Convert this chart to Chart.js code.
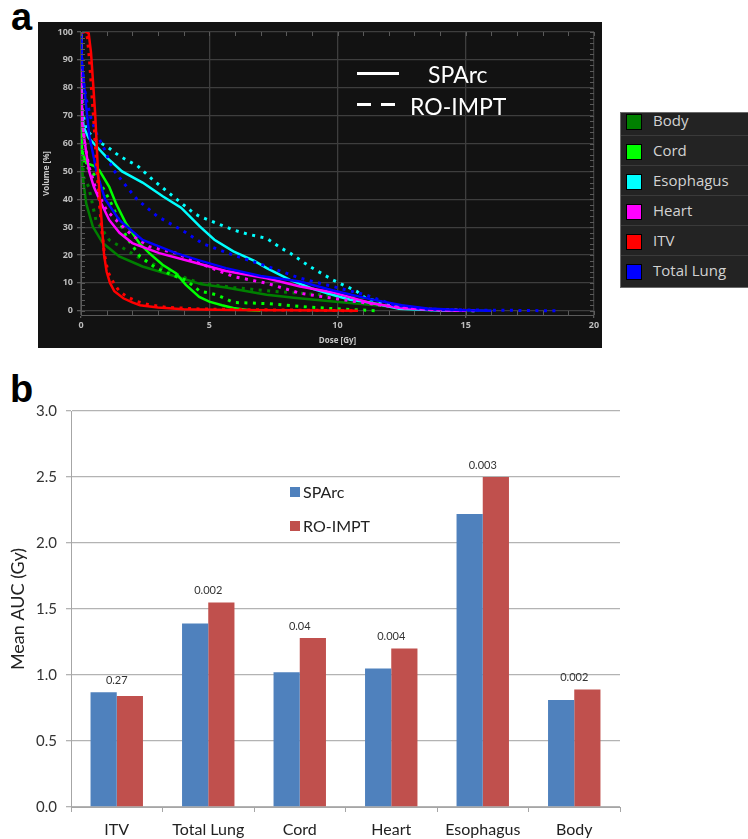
<!DOCTYPE html>
<html>
<head>
<meta charset="utf-8">
<script src="https://cdn.jsdelivr.net/npm/chart.js@4.4.1/dist/chart.umd.min.js"></script>
<style>
  body { margin: 0; width: 748px; height: 839px; background: #fff; position: relative; overflow: hidden; font-family: Lato, sans-serif; }
  .panel { position: absolute; font: bold 38px "Liberation Sans", Arial, sans-serif; line-height: 1; color: #000; }
  #boxA { position: absolute; left: 38px; top: 22px; width: 564px; height: 326px; background: #121212; }
  #planKey { position: absolute; left: 0; top: 0; color: #fff; font: 23px Lato, sans-serif; }
  #planKey div { position: absolute; white-space: nowrap; }
  #structKey { position: absolute; left: 620px; top: 112px; width: 140px; height: 174px; overflow: hidden; background: #232323; border: 1px solid #6a6a6a; }
  #structKey .inner { margin-top: -7px; }
  #structKey .row { height: 29px; border-bottom: 1px solid #3a3a3a; position: relative; font: 15px "Open Sans", sans-serif; color: #d2d2d2; }
  #structKey .row:last-child { border-bottom: none; }
  #structKey .sw { position: absolute; left: 5px; top: 8px; width: 14px; height: 14px; border: 1px solid #000; }
  #structKey .tx { position: absolute; left: 32px; top: 4px; }
  #keyB { position: absolute; left: 0; top: 0; font: 16px Lato, sans-serif; color: #222; }
  #keyB div { position: absolute; white-space: nowrap; }
  canvas { position: absolute; }
</style>
</head>
<body>
<div class="panel" style="left:11px; top:-2px;">a</div>
<div class="panel" style="left:10px; top:370px;">b</div>

<div id="boxA"><canvas id="dvh" width="564" height="326" style="left:0;top:0"></canvas></div>
<div id="planKey"></div>
<div id="structKey"></div>

<canvas id="auc" width="748" height="459" style="left:0;top:380px"></canvas>
<div id="keyB"></div>

<script>
// ---- panel a : DVH curves, [dose Gy, volume %] ----
var structures = ['Body', 'Cord', 'Esophagus', 'Heart', 'ITV', 'Total Lung'];
var structureColors = ['#008000', '#00ff00', '#00ffff', '#ff00ff', '#ff0000', '#0000ff'];
var planNames = ['SPArc', 'RO-IMPT'];
var yTicksA = [0, 10, 20, 30, 40, 50, 60, 70, 80, 90, 100];

var bodySparc = [[0,100],[0.01,65],[0.03,55],[0.07,48],[0.2,38.6],[0.46,30.2],[0.85,24.3],[1.49,19.5],[2.4,15.9],[3.7,12.3],[4.7,9.5],[5.65,8.4],[6.74,6.6],[7.24,5.8],[8.3,4.7],[9.83,3.3],[11.27,2.2],[12.5,1.2],[13.5,0.5],[15,0.1],[16,0]];
var bodyRoimpt = [[0,100],[0.01,66],[0.05,55],[0.1,48],[0.3,44.5],[0.58,32.6],[1.1,25.4],[1.75,21.9],[2.4,18.3],[3.05,15.9],[4.1,11.7],[4.64,9.9],[5.94,8.4],[7.24,7.2],[8.54,6.3],[9.83,5.5],[11.1,4.5],[12,2.5],[13,1],[14,0.3],[15.5,0]];
var cordSparc = [[0,100],[0.01,62],[0.05,57],[0.2,53],[0.5,52],[0.71,50.5],[1.1,44.5],[1.36,38.6],[1.75,31.4],[2.27,24.3],[2.66,20.7],[3.18,16.5],[3.7,13.5],[4.09,9.3],[4.61,5],[5.0,3.3],[5.5,2],[5.94,1],[6.5,0.3],[7,0]];
var cordRoimpt = [[0,100],[0.01,62],[0.05,56],[0.2,52],[0.5,49],[0.8,45],[1.1,40],[1.4,34],[1.8,26],[2.3,19.5],[2.9,15.5],[3.5,13],[4.1,11],[4.64,7],[5.0,6.4],[5.3,5.7],[5.94,3],[7.24,2.6],[8.5,1.6],[9.8,0.8],[10.7,0.4],[11.5,0]];
var esoSparc = [[0,100],[0.01,85],[0.04,72],[0.1,66],[0.3,62],[0.5,60],[1.0,55],[1.6,50],[2.4,46],[3.2,41],[3.9,37],[4.64,30.2],[5.2,25.5],[5.94,21.3],[6.74,18],[7.24,15.3],[8.15,11.1],[9.0,8],[9.83,5.7],[10.5,4],[11.27,3],[12.4,0.7],[14,0.1],[15,0]];
var esoRoimpt = [[0,100],[0.01,85],[0.05,72],[0.2,65],[0.6,61],[1.0,59],[1.5,55.5],[2.2,52],[2.8,47],[3.6,41],[4.4,35],[4.64,33.8],[5.94,29],[6.5,27.5],[7.24,26],[7.8,22.5],[8.15,20.7],[8.9,16],[9.83,11],[10.75,7],[11.1,4.5],[12.4,1.5],[13.7,0.4],[15.5,0]];
var heartSparc = [[0,100],[0.01,80],[0.05,67],[0.2,57],[0.32,50],[0.5,44.5],[0.71,40],[1.1,32.6],[1.5,28],[2.0,24.3],[3.05,20.7],[4.35,17.5],[5.65,14.3],[7.24,11.7],[8.54,8.7],[9.83,6.6],[11.27,2.8],[12.5,1],[14,0.2],[15,0]];
var heartRoimpt = [[0,100],[0.01,80],[0.05,68],[0.15,60],[0.3,52],[0.58,43.7],[1.0,36],[1.49,31.4],[2.0,27],[2.66,23],[3.7,20.7],[4.64,17],[5.94,12.3],[7.24,9.9],[8.54,6.3],[9.83,4.5],[11.1,2.8],[12.5,1],[14,0.4],[15.5,0]];
var itvSparc = [[0,100],[0.2,100],[0.3,99.5],[0.39,92.6],[0.48,80.6],[0.55,71],[0.61,60],[0.66,50],[0.74,40],[0.82,30],[0.9,20],[1.0,14],[1.13,10],[1.3,7],[1.65,4.5],[2.0,3],[2.3,2],[3.0,1.2],[4.0,0.6],[6.0,0.3],[8.0,0.2],[10.8,0]];
var itvRoimpt = [[0,100],[0.15,100],[0.25,98],[0.33,90],[0.42,78],[0.5,68],[0.57,58],[0.64,48],[0.72,38],[0.82,28],[0.92,20],[1.05,14],[1.3,9.5],[1.5,7],[1.8,5],[2.2,3.3],[2.6,2.3],[3.3,1.3],[4.5,0.7],[6.5,0.4],[9,0.2],[10.8,0]];
var lungSparc = [[0,100],[0.01,95],[0.04,89],[0.2,73.5],[0.32,63],[0.52,54],[0.6,50],[0.94,40],[1.5,32.5],[2.4,25.4],[3.7,20.7],[4.64,18],[5.65,15.3],[7.0,12.5],[8.54,10.5],[9.83,7.3],[11.27,4.2],[12.5,2],[13.5,0.8],[15,0.2],[16,0]];
var lungRoimpt = [[0,100],[0.03,92],[0.1,82],[0.2,76],[0.39,69],[0.58,64],[0.91,58],[1.23,51],[1.65,46],[2.18,40],[2.96,34],[4.1,28],[4.77,24],[5.94,20],[7.24,16],[8.54,11.7],[9.83,8.7],[11.1,5.7],[12.2,2.1],[13.5,0.6],[15,0.3],[17,0.15],[18.5,0]];

var sparcCurves = [bodySparc, cordSparc, esoSparc, heartSparc, itvSparc, lungSparc];
var roimptCurves = [bodyRoimpt, cordRoimpt, esoRoimpt, heartRoimpt, itvRoimpt, lungRoimpt];

// ---- panel b : mean AUC ----
var categories = ['ITV', 'Total Lung', 'Cord', 'Heart', 'Esophagus', 'Body'];
var sparcAuc = [0.87, 1.39, 1.02, 1.05, 2.22, 0.81];
var roimptAuc = [0.84, 1.55, 1.28, 1.20, 2.50, 0.89];
var pValues = ['0.27', '0.002', '0.04', '0.004', '0.003', '0.002'];
var yTicksB = [0, 0.5, 1, 1.5, 2, 2.5, 3];

var tickFontA = { family: 'Open Sans', size: 9, weight: 'bold' };

// datasets, ITV first so it sits on top
var dvhSets = [];
[4, 5, 3, 2, 1, 0].forEach(function (i) {
  dvhSets.push({
    label: structures[i] + ' ' + planNames[0],
    data: sparcCurves[i].map(function (p) { return { x: p[0], y: p[1] }; }),
    borderColor: structureColors[i], borderWidth: 2.5
  });
  dvhSets.push({
    label: structures[i] + ' ' + planNames[1],
    data: roimptCurves[i].map(function (p) { return { x: p[0], y: p[1] }; }),
    borderColor: structureColors[i], borderWidth: 3, borderDash: [3, 5.5]
  });
});

var minorTicks = {
  id: 'minorTicks',
  afterDraw: function (chart) {
    var ctx = chart.ctx, a = chart.chartArea, x = chart.scales.x, y = chart.scales.y;
    var y0 = y.getPixelForValue(0);
    ctx.save();
    ctx.strokeStyle = '#5a5a5a';
    ctx.lineWidth = 1;
    ctx.beginPath();
    for (var d = 0; d <= 20; d++) {
      var px = Math.round(x.getPixelForValue(d)) + 0.5;
      ctx.moveTo(px, a.top); ctx.lineTo(px, a.top + 4);
      ctx.moveTo(px, y0); ctx.lineTo(px, a.bottom);
    }
    for (var v = 0; v <= 100; v += 2) {
      var py = Math.round(y.getPixelForValue(v)) + 0.5;
      ctx.moveTo(a.left, py); ctx.lineTo(a.left + 4, py);
      ctx.moveTo(a.right - 4, py); ctx.lineTo(a.right, py);
    }
    ctx.stroke();
    ctx.restore();
  }
};

new Chart(document.getElementById('dvh'), {
  type: 'line',
  data: { datasets: dvhSets },
  options: {
    responsive: false,
    animation: false,
    layout: { padding: { top: 10, right: 8, left: 0, bottom: 0 } },
    plugins: { legend: { display: false }, tooltip: { enabled: false } },
    elements: { point: { radius: 0 }, line: { tension: 0, borderCapStyle: 'butt' } },
    scales: {
      x: {
        type: 'linear', min: 0, max: 20,
        ticks: { stepSize: 5, color: '#bdbdbd', font: tickFontA, padding: 2, maxRotation: 0 },
        grid: { color: '#3e3e3e', lineWidth: 1.3, tickLength: 3, tickColor: '#5a5a5a' },
        border: { color: '#5a5a5a' },
        title: { display: true, text: 'Dose [Gy]', color: '#c8c8c8', font: { family: 'Open Sans', size: 8, weight: 'bold' }, padding: { top: 0, bottom: 2 } },
        afterFit: function (s) { s.height = 33; }
      },
      y: {
        min: -1.5, max: 100,
        afterBuildTicks: function (s) { s.ticks = yTicksA.map(function (v) { return { value: v }; }); },
        ticks: { color: '#bdbdbd', font: tickFontA, padding: 4 },
        grid: { color: '#3e3e3e', lineWidth: 1.3, tickLength: 4, tickColor: '#5a5a5a' },
        border: { color: '#5a5a5a' },
        title: { display: true, text: 'Volume [%]', color: '#c8c8c8', font: { family: 'Open Sans', size: 8, weight: 'bold' }, padding: { top: 4, bottom: 0 } },
        afterFit: function (s) { s.width = 43; }
      }
    }
  },
  plugins: [minorTicks]
});

// plan key inside panel a
document.getElementById('planKey').innerHTML =
  '<div style="left:357px;top:72px;width:42px;height:3px;background:#fff"></div>' +
  '<div style="left:428px;top:60px">' + planNames[0] + '</div>' +
  '<div style="left:357px;top:103px;width:14px;height:3px;background:#fff"></div>' +
  '<div style="left:381px;top:103px;width:14px;height:3px;background:#fff"></div>' +
  '<div style="left:410px;top:92px">' + planNames[1] + '</div>';

// structure key
var keyHtml = '<div class="inner">';
structures.forEach(function (s, i) {
  keyHtml += '<div class="row"><span class="sw" style="background:' + structureColors[i] + '"></span><span class="tx">' + s + '</span></div>';
});
document.getElementById('structKey').innerHTML = keyHtml + '</div>';

// ---- panel b chart ----
var pLabels = {
  id: 'pLabels',
  afterDatasetsDraw: function (chart) {
    var ctx = chart.ctx, x = chart.scales.x, y = chart.scales.y;
    ctx.save();
    ctx.font = '11px Lato, sans-serif';
    ctx.fillStyle = '#333';
    ctx.textAlign = 'center';
    ctx.textBaseline = 'middle';
    categories.forEach(function (c, i) {
      var top = Math.max(sparcAuc[i], roimptAuc[i]);
      ctx.fillText(pValues[i], x.getPixelForValue(i), y.getPixelForValue(top) - 12);
    });
    ctx.restore();
  }
};

var barColors = ['#4f81bd', '#c0504d'];

new Chart(document.getElementById('auc'), {
  type: 'bar',
  data: {
    labels: categories,
    datasets: [
      { label: planNames[0], data: sparcAuc, backgroundColor: barColors[0] },
      { label: planNames[1], data: roimptAuc, backgroundColor: barColors[1] }
    ]
  },
  options: {
    responsive: false,
    animation: false,
    layout: { padding: { top: 31, right: 128, left: 0, bottom: 0 } },
    plugins: { legend: { display: false }, tooltip: { enabled: false } },
    datasets: { bar: { categoryPercentage: 0.573, barPercentage: 1 } },
    scales: {
      x: {
        grid: { offset: true, drawOnChartArea: false, tickLength: 5, color: '#a6a6a6' },
        border: { color: '#a6a6a6' },
        ticks: { color: '#222', font: { family: 'Lato', size: 16 }, padding: 8, maxRotation: 0 },
        afterFit: function (s) { s.height = 32; }
      },
      y: {
        min: 0, max: 3,
        afterBuildTicks: function (s) { s.ticks = yTicksB.map(function (v) { return { value: v }; }); },
        ticks: { color: '#333', font: { family: 'Lato', size: 15 }, padding: 9, callback: function (v) { return v.toFixed(1); } },
        grid: { color: '#b3b3b3', lineWidth: 1.3, tickLength: 5 },
        border: { color: '#a6a6a6' },
        title: { display: true, text: 'Mean AUC (Gy)', color: '#222', font: { family: 'Lato', size: 18 }, padding: { top: 7, bottom: 0 } },
        afterFit: function (s) { s.width = 71; }
      }
    }
  },
  plugins: [pLabels]
});

// legend of panel b
document.getElementById('keyB').innerHTML =
  '<div style="left:290px;top:487px;width:10px;height:10px;background:' + barColors[0] + '"></div>' +
  '<div style="left:303px;top:482px">' + planNames[0] + '</div>' +
  '<div style="left:290px;top:521px;width:10px;height:10px;background:' + barColors[1] + '"></div>' +
  '<div style="left:303px;top:516px">' + planNames[1] + '</div>';
</script>
</body>
</html>
